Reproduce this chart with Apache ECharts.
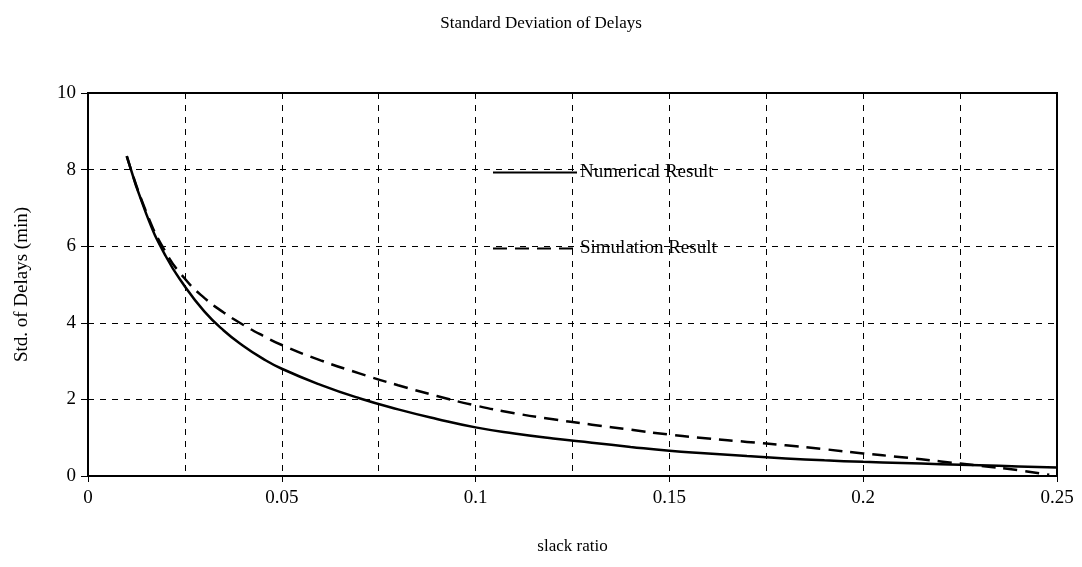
<!DOCTYPE html>
<html>
<head>
<meta charset="utf-8">
<script src="https://cdn.jsdelivr.net/npm/echarts@6/dist/echarts.min.js"></script>
<style>
  html, body { margin: 0; padding: 0; background: #fff; }
  #chart { width: 1082px; height: 567px; }
</style>
</head>
<body>
<div id="chart"></div>
<script>
// values
var numX = [0.01, 0.015, 0.02, 0.025, 0.03, 0.035, 0.04, 0.045, 0.05, 0.06, 0.07, 0.08, 0.09, 0.1, 0.11, 0.12, 0.13, 0.14, 0.15, 0.16, 0.17, 0.18, 0.19, 0.2, 0.21, 0.22, 0.23, 0.24, 0.25]
var numY = [8.35, 6.85, 5.75, 4.95, 4.3, 3.8, 3.4, 3.07, 2.8, 2.38, 2.03, 1.74, 1.49, 1.27, 1.11, 0.98, 0.87, 0.76, 0.66, 0.59, 0.52, 0.46, 0.41, 0.37, 0.34, 0.31, 0.28, 0.25, 0.22]
var simX = [0.01, 0.015, 0.02, 0.025, 0.03, 0.035, 0.04, 0.045, 0.05, 0.06, 0.07, 0.08, 0.09, 0.1, 0.11, 0.12, 0.13, 0.14, 0.15, 0.16, 0.17, 0.18, 0.19, 0.2, 0.21, 0.22, 0.23, 0.24, 0.248]
var simY = [8.35, 6.9, 5.85, 5.15, 4.65, 4.27, 3.95, 3.67, 3.42, 3.02, 2.68, 2.37, 2.09, 1.84, 1.64, 1.48, 1.34, 1.21, 1.08, 0.98, 0.89, 0.8, 0.7, 0.59, 0.49, 0.38, 0.27, 0.15, 0.03]
var seriesNames = ['Numerical Result', 'Simulation Result']

var font = '"Liberation Serif", "Times New Roman", serif'

function pairs(xs, ys) {
  return xs.map(function (x, i) { return [x, ys[i]] })
}

var chart = echarts.init(document.getElementById('chart'))
chart.setOption({
  backgroundColor: '#fff',
  animation: false,
  textStyle: { fontFamily: font, color: '#000' },
  title: {
    text: 'Standard Deviation of Delays',
    left: 'center',
    top: 10,
    textStyle: { fontFamily: font, fontSize: 17, fontWeight: 'normal', color: '#000' }
  },
  legend: {
    orient: 'vertical',
    left: 487,
    top: 158,
    itemGap: 57,
    itemWidth: 84,
    itemHeight: 20,
    itemStyle: { opacity: 0 },
    textStyle: { fontFamily: font, fontSize: 19, color: '#000', padding: [0, 0, 0, -2] },
    data: seriesNames
  },
  grid: {
    left: 88,
    right: 25,
    top: 93,
    bottom: 91,
    show: true,
    borderColor: '#000',
    borderWidth: 2
  },
  xAxis: {
    type: 'value',
    min: 0,
    max: 0.25,
    interval: 0.05,
    name: 'slack ratio',
    nameLocation: 'middle',
    nameGap: 62,
    nameTextStyle: { fontFamily: font, fontSize: 17, color: '#000' },
    axisLine: { lineStyle: { color: '#000', width: 2 } },
    axisTick: { show: true, length: 6, lineStyle: { color: '#000' } },
    axisLabel: { fontFamily: font, fontSize: 19, color: '#000', margin: 13 },
    splitLine: { show: true, lineStyle: { color: '#000', type: [6, 6], width: 1 } },
    minorTick: { show: false, splitNumber: 2 },
    minorSplitLine: { show: true, lineStyle: { color: '#000', type: [6, 6], width: 1 } }
  },
  yAxis: {
    type: 'value',
    min: 0,
    max: 10,
    interval: 2,
    name: 'Std. of Delays (min)',
    nameLocation: 'middle',
    nameGap: 56,
    nameTextStyle: { fontFamily: font, fontSize: 19, color: '#000' },
    axisLine: { show: true, lineStyle: { color: '#000', width: 2 } },
    axisTick: { show: true, length: 7, lineStyle: { color: '#000' } },
    axisLabel: { fontFamily: font, fontSize: 19, color: '#000', margin: 12 },
    splitLine: { show: true, lineStyle: { color: '#000', type: [6, 6], width: 1 } }
  },
  series: [
    {
      name: seriesNames[0],
      type: 'line',
      smooth: true,
      symbol: 'none',
      data: pairs(numX, numY),
      lineStyle: { color: '#000', width: 2.5 },
      itemStyle: { color: '#000' }
    },
    {
      name: seriesNames[1],
      type: 'line',
      smooth: true,
      symbol: 'none',
      data: pairs(simX, simY),
      lineStyle: { color: '#000', width: 2.5, type: [14, 8] },
      itemStyle: { color: '#000' }
    }
  ]
})
</script>
</body>
</html>
